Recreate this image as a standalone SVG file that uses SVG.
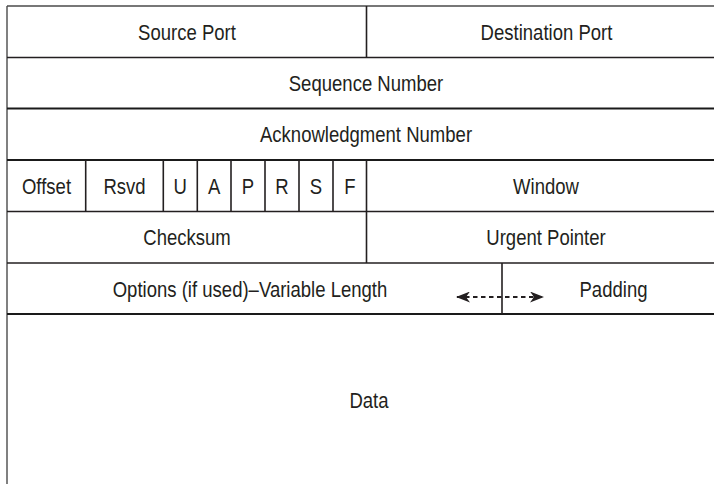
<svg xmlns="http://www.w3.org/2000/svg" width="714" height="484" viewBox="0 0 714 484">
  <style>
    .t { font-family: "Liberation Sans", Arial, sans-serif; font-size: 22.6px; fill: #231f20; text-anchor: middle; }
    .rule { stroke: #231f20; stroke-width: 1.6; fill: none; }
    .thin { stroke: #4a4a4a; stroke-width: 1.4; fill: none; }
    .heavy { stroke: #1a1a1a; stroke-width: 2.2; fill: none; }
  </style>
  <defs>
    <marker id="barb" viewBox="0 0 14 11" refX="13" refY="5.5" markerWidth="14" markerHeight="11" markerUnits="userSpaceOnUse" orient="auto-start-reverse">
      <path d="M0,0 L14,5.5 L0,11 L4,5.5 Z" fill="#231f20"/>
    </marker>
  </defs>
  <rect width="714" height="484" fill="#ffffff"/>

  <!-- table frame and row rules -->
  <g id="frame">
    <line class="thin" x1="7" y1="6" x2="714" y2="6"/>
    <line class="thin" x1="7" y1="6" x2="7" y2="484"/>
    <line class="rule" x1="7" y1="57.5" x2="714" y2="57.5"/>
    <line class="heavy" x1="7" y1="108.5" x2="714" y2="108.5"/>
    <line class="heavy" x1="7" y1="160" x2="714" y2="160"/>
    <line class="rule" x1="7" y1="211.5" x2="714" y2="211.5"/>
    <line class="rule" x1="7" y1="263" x2="714" y2="263"/>
    <line class="heavy" x1="7" y1="314" x2="714" y2="314"/>
  </g>

  <!-- labels use a horizontally condensed sans: scale(0.82,1) around each anchor -->
  <g id="row1">
    <line class="rule" x1="366.5" y1="6" x2="366.5" y2="57.5"/>
    <text class="t" transform="translate(187,40) scale(0.82,1)">Source Port</text>
    <text class="t" transform="translate(546.5,40) scale(0.82,1)">Destination Port</text>
  </g>

  <g id="row2">
    <text class="t" transform="translate(366,91) scale(0.82,1)">Sequence Number</text>
  </g>

  <g id="row3">
    <text class="t" transform="translate(366,142) scale(0.82,1)">Acknowledgment Number</text>
  </g>

  <g id="row4">
    <line class="rule" x1="85.7" y1="160" x2="85.7" y2="211.5"/>
    <line class="rule" x1="163.3" y1="160" x2="163.3" y2="211.5"/>
    <line class="rule" x1="197.3" y1="160" x2="197.3" y2="211.5"/>
    <line class="rule" x1="231" y1="160" x2="231" y2="211.5"/>
    <line class="rule" x1="265" y1="160" x2="265" y2="211.5"/>
    <line class="rule" x1="299" y1="160" x2="299" y2="211.5"/>
    <line class="rule" x1="333" y1="160" x2="333" y2="211.5"/>
    <line class="rule" x1="366.5" y1="160" x2="366.5" y2="211.5"/>
    <text class="t" transform="translate(46.5,194) scale(0.82,1)">Offset</text>
    <text class="t" transform="translate(124.5,194) scale(0.82,1)">Rsvd</text>
    <text class="t" transform="translate(180.3,194) scale(0.82,1)">U</text>
    <text class="t" transform="translate(214.2,194) scale(0.82,1)">A</text>
    <text class="t" transform="translate(248,194) scale(0.82,1)">P</text>
    <text class="t" transform="translate(282,194) scale(0.82,1)">R</text>
    <text class="t" transform="translate(316,194) scale(0.82,1)">S</text>
    <text class="t" transform="translate(349.8,194) scale(0.82,1)">F</text>
    <text class="t" transform="translate(546,194) scale(0.82,1)">Window</text>
  </g>

  <g id="row5">
    <line class="rule" x1="366.5" y1="211.5" x2="366.5" y2="263"/>
    <text class="t" transform="translate(187,245) scale(0.82,1)">Checksum</text>
    <text class="t" transform="translate(546,245) scale(0.82,1)">Urgent Pointer</text>
  </g>

  <g id="row6">
    <line class="rule" x1="502" y1="263" x2="502" y2="314"/>
    <text class="t" transform="translate(250,297) scale(0.82,1)">Options (if used)–Variable Length</text>
    <text class="t" transform="translate(613.5,297) scale(0.82,1)">Padding</text>
  </g>

  <g id="data">
    <text class="t" transform="translate(369,408) scale(0.82,1)">Data</text>
  </g>

  <g id="connectors">
    <line x1="457" y1="297" x2="543" y2="297" stroke="#231f20" stroke-width="2" stroke-dasharray="4.5 3.5" marker-start="url(#barb)" marker-end="url(#barb)"/>
  </g>
</svg>
